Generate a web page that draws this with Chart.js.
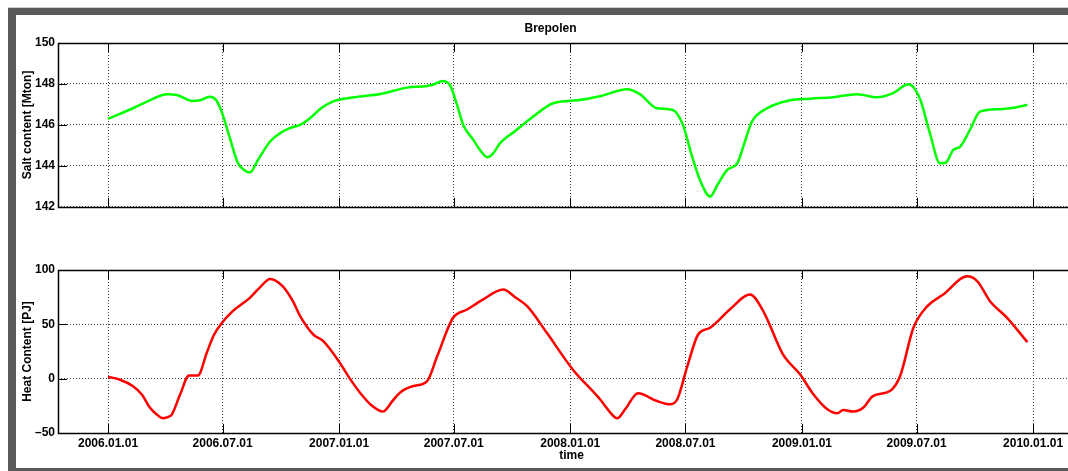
<!DOCTYPE html>
<html>
<head>
<meta charset="utf-8">
<script src="https://cdn.jsdelivr.net/npm/chart.js@4.4.1/dist/chart.umd.min.js"></script>
<style>
  html, body { margin: 0; padding: 0; background: #fff; }
  body { width: 1068px; height: 471px; overflow: hidden; position: relative; }
  .frame { position: absolute; background: #5a5a5a; }
  .box { position: absolute; left: 0; width: 1100px; }
</style>
</head>
<body>
<div class="frame" style="left:8px; top:7px; width:1060px; height:1px; background:#cfcfcf"></div>
<div class="frame" style="left:8px; top:8px; width:1060px; height:7px"></div>
<div class="frame" style="left:8px; top:8px; width:8px; height:463px"></div>
<div class="frame" style="left:8px; top:468px; width:1060px; height:3px"></div>

<div class="box" style="top:0; height:217px"><canvas id="salt"></canvas></div>
<div class="box" style="top:240px; height:231px"><canvas id="heat"></canvas></div>

<script>
// x tick positions and labels
const tickDates = ["2006-01-01", "2006-07-01", "2007-01-01", "2007-07-01", "2008-01-01",
                   "2008-07-01", "2009-01-01", "2009-07-01", "2010-01-01"];
const tickLabels = ["2006.01.01", "2006.07.01", "2007.01.01", "2007.07.01", "2008.01.01",
                    "2008.07.01", "2009.01.01", "2009.07.01", "2010.01.01"];

// salt content [Mton]
const saltDates = [
  "2006-01-01", "2006-02-12", "2006-03-08", "2006-04-04", "2006-04-21", "2006-05-14",
  "2006-05-26", "2006-06-11", "2006-06-21", "2006-06-30", "2006-07-13", "2006-07-25",
  "2006-08-04", "2006-08-13", "2006-08-26", "2006-09-14", "2006-09-30", "2006-10-15",
  "2006-10-31", "2006-11-16", "2006-12-05", "2006-12-22", "2007-01-26", "2007-03-07",
  "2007-04-18", "2007-05-20", "2007-06-01", "2007-06-13", "2007-06-25", "2007-07-06",
  "2007-07-16", "2007-08-01", "2007-08-12", "2007-08-23", "2007-09-01", "2007-09-12",
  "2007-10-06", "2007-11-03", "2007-12-05", "2008-01-12", "2008-02-17", "2008-03-31",
  "2008-04-20", "2008-05-17", "2008-06-11", "2008-06-27", "2008-07-11", "2008-07-24",
  "2008-08-09", "2008-08-21", "2008-09-05", "2008-09-21", "2008-10-03", "2008-10-14",
  "2008-11-07", "2008-12-08", "2009-01-14", "2009-02-19", "2009-03-29", "2009-04-30",
  "2009-05-25", "2009-06-18", "2009-06-27", "2009-07-07", "2009-07-22", "2009-08-07",
  "2009-08-16", "2009-08-28", "2009-09-08", "2009-09-24", "2009-10-09", "2009-11-10",
  "2009-12-04", "2009-12-23"
];
const saltValues = [
  146.29, 146.85, 147.2, 147.5, 147.45, 147.17,
  147.2, 147.38, 147.2, 146.6, 145.3, 144.15,
  143.8, 143.67, 144.3, 145.19, 145.6, 145.84,
  146.0, 146.33, 146.85, 147.14, 147.35, 147.51,
  147.82, 147.9, 148.0, 148.15, 147.95, 147.0,
  146.0, 145.27, 144.75, 144.42, 144.6, 145.1,
  145.7, 146.4, 147.06, 147.2, 147.4, 147.74,
  147.5, 146.81, 146.73, 146.0, 144.5, 143.3,
  142.5, 143.1, 143.8, 144.13, 145.2, 146.16,
  146.81, 147.17, 147.28, 147.35, 147.5, 147.35,
  147.55, 147.98, 147.8, 147.22, 145.6, 144.13,
  144.15, 144.78, 144.94, 145.8, 146.65, 146.77,
  146.85, 146.98
];

// heat content [PJ]
const heatDates = [
  "2006-01-01", "2006-01-20", "2006-02-09", "2006-02-24", "2006-03-08", "2006-03-19",
  "2006-03-29", "2006-04-07", "2006-04-12", "2006-04-25", "2006-05-09", "2006-05-23",
  "2006-06-06", "2006-06-17", "2006-06-30", "2006-07-17", "2006-08-13", "2006-08-29",
  "2006-09-14", "2006-10-04", "2006-10-20", "2006-10-31", "2006-11-21", "2006-12-07",
  "2007-01-02", "2007-01-18", "2007-02-03", "2007-02-22", "2007-03-11", "2007-03-27",
  "2007-04-07", "2007-04-28", "2007-05-20", "2007-06-05", "2007-06-30", "2007-07-22",
  "2007-08-16", "2007-09-17", "2007-10-06", "2007-10-25", "2007-11-25", "2008-01-05",
  "2008-02-17", "2008-03-04", "2008-03-15", "2008-03-28", "2008-04-17", "2008-05-17",
  "2008-06-07", "2008-06-18", "2008-07-04", "2008-07-21", "2008-08-09", "2008-09-09",
  "2008-10-11", "2008-11-01", "2008-12-02", "2008-12-29", "2009-01-19", "2009-02-10",
  "2009-02-26", "2009-03-07", "2009-03-23", "2009-04-08", "2009-04-23", "2009-05-20",
  "2009-06-05", "2009-06-26", "2009-07-18", "2009-08-12", "2009-09-19", "2009-10-05",
  "2009-10-25", "2009-11-21", "2009-12-23"
];
const heatValues = [
  1.8, -1, -6.8, -15, -26.6, -33,
  -36.5, -35, -32.8, -14.4, 3.0, 3.0,
  23.9, 40, 51.4, 62.1, 74.4, 84,
  91.8, 85, 71.3, 58, 40.7, 34.5,
  14.7, 0, -12.9, -25, -30.3, -20,
  -12.9, -6.8, -2.2, 20.8, 56, 63.6,
  72.8, 82, 75, 66.7, 42.2, 8.5,
  -19, -31, -36.5, -28, -13.5, -20.6,
  -23.6, -19, 11.6, 40.7, 46.8, 63.6,
  77.4, 62, 22.3, 4, -14.4, -28.2,
  -31.9, -28.8, -30.3, -26.6, -16, -11.4,
  2.4, 46.8, 66.7, 77.4, 94.2, 89.6,
  71.3, 56, 33.6
];

const saltTicks = [142, 144, 146, 148, 150];
const heatTicks = [-50, 0, 50, 100];

// days since 2006-01-01
function dayOf(s) {
  const p = s.split("-").map(Number);
  return (Date.UTC(p[0], p[1] - 1, p[2]) - Date.UTC(2006, 0, 1)) / 86400000;
}
const tickDays = tickDates.map(dayOf);
const xMin = -79;
const xMax = 1543;

const FONT = "'Liberation Sans', Arial, sans-serif";

// MATLAB-like axes box with inward tick marks
const matlabBox = {
  id: "matlabBox",
  afterDraw(chart) {
    const { ctx, chartArea: a, scales } = chart;
    ctx.save();
    ctx.strokeStyle = "#000";
    ctx.lineWidth = 1;
    ctx.beginPath();
    scales.x.ticks.forEach(t => {
      const px = Math.round(scales.x.getPixelForValue(t.value)) + 0.5;
      ctx.moveTo(px, a.top); ctx.lineTo(px, a.top + 9);
      ctx.moveTo(px, a.bottom); ctx.lineTo(px, a.bottom - 9);
    });
    scales.y.ticks.forEach(t => {
      const py = Math.round(scales.y.getPixelForValue(t.value)) + 0.5;
      ctx.moveTo(a.left, py); ctx.lineTo(a.left + 9, py);
      ctx.moveTo(a.right, py); ctx.lineTo(a.right - 9, py);
    });
    ctx.stroke();
    ctx.lineWidth = 1.5;
    ctx.strokeRect(Math.round(a.left) + 0.5, Math.round(a.top) + 0.5,
                   Math.round(a.width), Math.round(a.height));
    ctx.restore();
  }
};

function xScale(showLabels) {
  return {
    type: "linear",
    min: xMin,
    max: xMax,
    afterBuildTicks: s => { s.ticks = tickDays.map(v => ({ value: v })); },
    afterFit: s => { s.height = showLabels ? 30 : 0; },
    grid: { color: "rgba(0,0,0,0.75)", lineWidth: 1, drawTicks: false },
    border: { display: false, dash: [1, 2] },
    ticks: {
      display: showLabels,
      autoSkip: false,
      maxRotation: 0,
      padding: 3,
      color: "#000",
      font: { family: FONT, size: 12, weight: "bold" },
      callback: (v, i) => tickLabels[i]
    },
    title: {
      display: showLabels,
      text: "time",
      color: "#000",
      padding: 0,
      font: { family: FONT, size: 12, weight: "bold" }
    }
  };
}

function yScale(min, max, ticks, label) {
  return {
    min: min,
    max: max,
    afterBuildTicks: s => { s.ticks = ticks.map(v => ({ value: v })); },
    afterFit: s => { s.width = 42; },
    grid: { color: "rgba(0,0,0,0.75)", lineWidth: 1, drawTicks: false },
    border: { display: false, dash: [1, 2] },
    ticks: {
      padding: 3,
      color: "#000",
      font: { family: FONT, size: 12, weight: "bold" },
      callback: v => (v < 0 ? "\u2013" + Math.abs(v) : String(v))
    },
    title: {
      display: true,
      text: label,
      color: "#000",
      padding: { top: 4, bottom: 0 },
      font: { family: FONT, size: 12, weight: "bold" }
    }
  };
}

function makeChart(id, dates, values, color, yOpts, showX, titleText, pad) {
  return new Chart(document.getElementById(id), {
    type: "line",
    data: {
      datasets: [{
        data: dates.map((d, i) => ({ x: dayOf(d), y: values[i] })),
        borderColor: color,
        borderWidth: 2.5,
        pointRadius: 0,
        cubicInterpolationMode: "monotone",
        fill: false
      }]
    },
    options: {
      responsive: true,
      maintainAspectRatio: false,
      animation: false,
      layout: { padding: pad },
      plugins: {
        legend: { display: false },
        tooltip: { enabled: false },
        title: {
          display: !!titleText,
          text: titleText,
          color: "#000",
          padding: { top: 21, bottom: 7.6 },
          font: { family: FONT, size: 12, weight: "bold" }
        }
      },
      scales: { x: xScale(showX), y: yOpts }
    },
    plugins: [matlabBox]
  });
}

makeChart("salt", saltDates, saltValues, "#00ff00",
  yScale(142, 150, saltTicks, "Salt content [Mton]"), false, "Brepolen",
  { left: 16, right: 15, top: 0, bottom: 3 });

makeChart("heat", heatDates, heatValues, "#ff0000",
  yScale(-50, 100, heatTicks, "Heat Content [PJ]"), true, "",
  { left: 16, right: 15, top: 30, bottom: 8 });
</script>
</body>
</html>
